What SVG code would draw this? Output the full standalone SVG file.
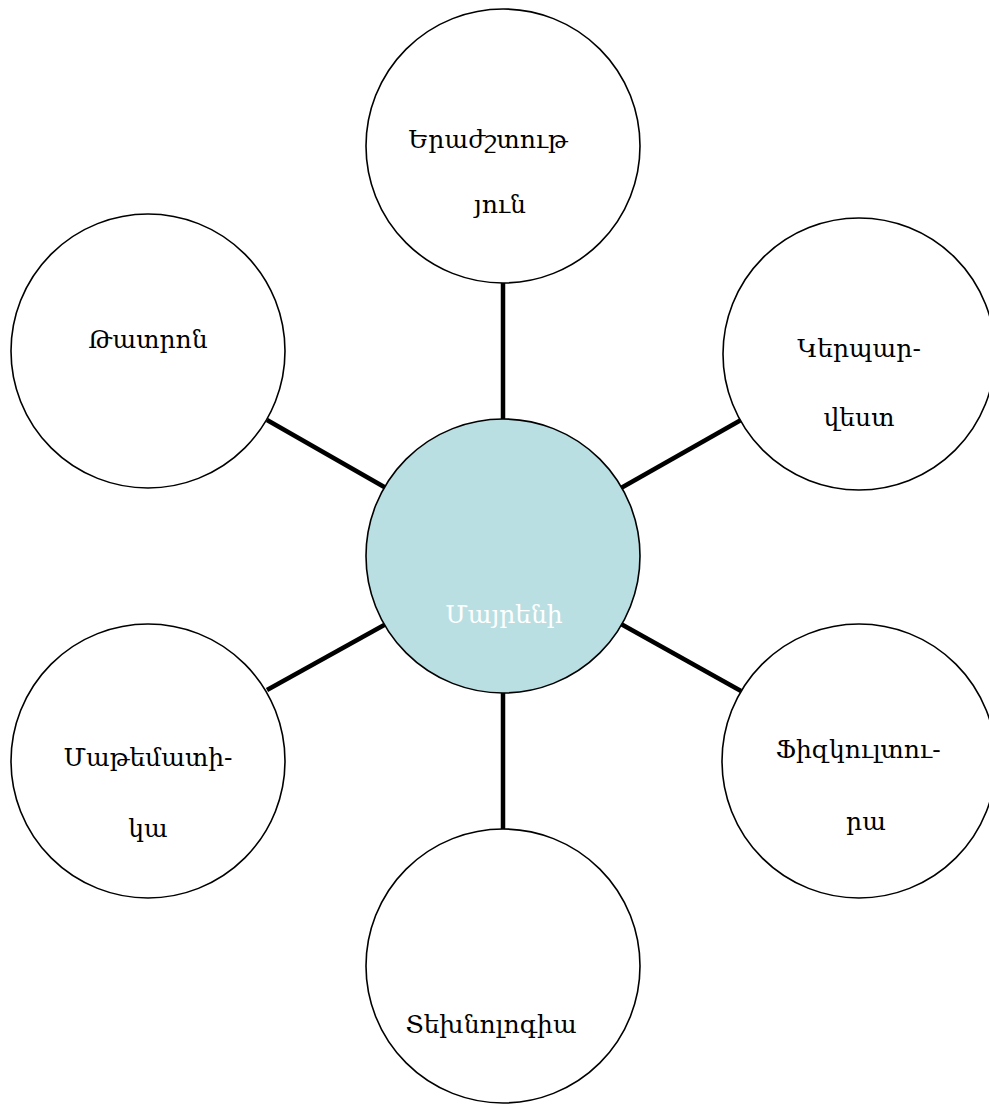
<svg xmlns="http://www.w3.org/2000/svg" width="989" height="1104" viewBox="0 0 989 1104">
<style>
.n{fill:#ffffff;stroke:#000000;stroke-width:1.6}
.c{fill:#b9dfe3;stroke:#000000;stroke-width:1.6}
.t{font-family:"DejaVu Serif","Liberation Serif",serif;font-size:25px;fill:#000000;text-anchor:middle}
.w{fill:#ffffff}
.e{stroke:#000000;stroke-width:4.5;fill:none}
</style>
<rect width="989" height="1104" fill="#ffffff"/>
<g id="connectors">
<line class="e" x1="503" y1="283" x2="503" y2="419"/>
<line class="e" x1="503" y1="693" x2="503" y2="829"/>
<line class="e" x1="267" y1="420" x2="386" y2="488"/>
<line class="e" x1="621" y1="488" x2="741" y2="420"/>
<line class="e" x1="267" y1="690" x2="386" y2="624"/>
<line class="e" x1="621" y1="624" x2="741" y2="691"/>
</g>
<g id="center">
<circle class="c" cx="503" cy="556" r="137"/>
<text class="t w" x="504" y="623">Մայրենի</text>
</g>
<g id="top">
<circle class="n" cx="503" cy="146" r="137"/>
<text class="t" x="488" y="148">Երաժշտութ</text>
<text class="t" x="500" y="213">յուն</text>
</g>
<g id="topleft">
<circle class="n" cx="148" cy="351" r="137"/>
<text class="t" x="148" y="348">Թատրոն</text>
</g>
<g id="topright">
<circle class="n" cx="859" cy="354" r="136"/>
<text class="t" x="859" y="357">Կերպար-</text>
<text class="t" x="859" y="426">վեստ</text>
</g>
<g id="bottomright">
<circle class="n" cx="859" cy="761" r="137"/>
<text class="t" x="858" y="758">Ֆիզկուլտու-</text>
<text class="t" x="866" y="830">րա</text>
</g>
<g id="bottomleft">
<circle class="n" cx="148" cy="761" r="137"/>
<text class="t" x="148" y="766">Մաթեմատի-</text>
<text class="t" x="148" y="837">կա</text>
</g>
<g id="bottom">
<circle class="n" cx="503" cy="966" r="137"/>
<text class="t" x="491" y="1033">Տեխնոլոգիա</text>
</g>
</svg>
